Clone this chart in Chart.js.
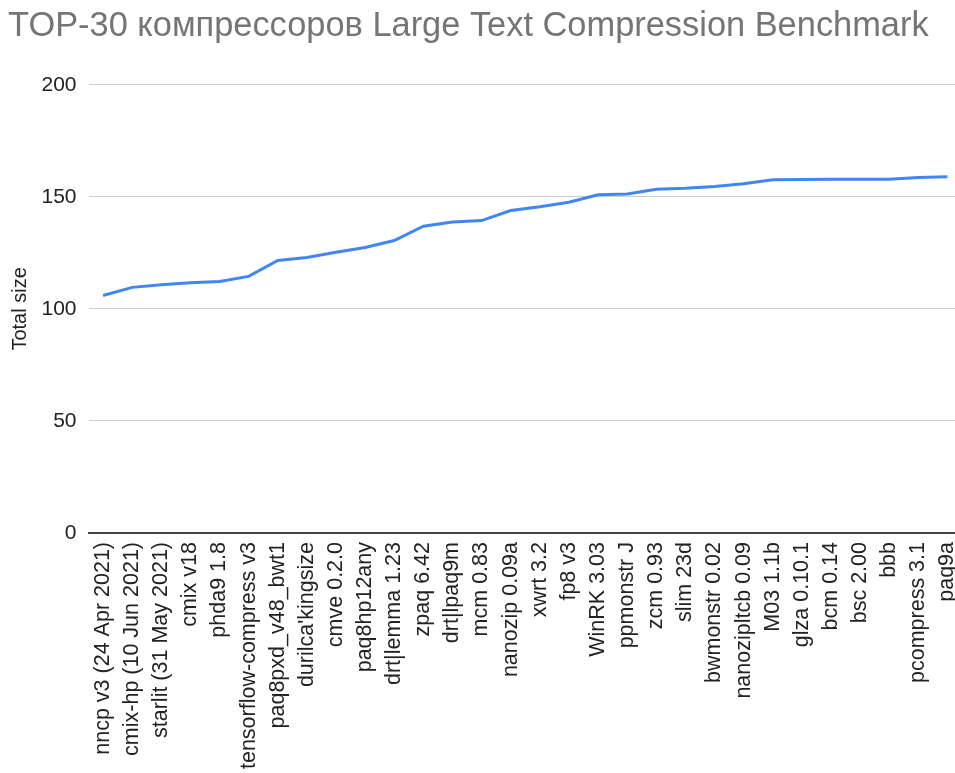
<!DOCTYPE html>
<html>
<head>
<meta charset="utf-8">
<script src="https://cdn.jsdelivr.net/npm/chart.js@4/dist/chart.umd.min.js"></script>
<style>
  html, body { margin: 0; padding: 0; background: #fff; overflow: hidden; }
  #wrap { width: 962px; height: 773px; position: relative; }
</style>
</head>
<body>
<div id="wrap"><canvas id="c"></canvas></div>
<script>
const categories = [
  "nncp v3 (24 Apr 2021)", "cmix-hp (10 Jun 2021)", "starlit (31 May 2021)", "cmix v18", "phda9 1.8",
  "tensorflow-compress v3", "paq8pxd_v48_bwt1", "durilca'kingsize", "cmve 0.2.0", "paq8hp12any",
  "drt|lemma 1.23", "zpaq 6.42", "drt|lpaq9m", "mcm 0.83", "nanozip 0.09a",
  "xwrt 3.2", "fp8 v3", "WinRK 3.03", "ppmonstr J", "zcm 0.93",
  "slim 23d", "bwmonstr 0.02", "nanozipltcb 0.09", "M03 1.1b", "glza 0.10.1",
  "bcm 0.14", "bsc 2.00", "bbb", "pcompress 3.1", "paq9a"
];
const totalSize = [
  106.0, 109.6, 110.8, 111.7, 112.2,
  114.5, 121.6, 122.9, 125.3, 127.4,
  130.5, 136.9, 138.8, 139.4, 143.9,
  145.6, 147.6, 150.9, 151.3, 153.4,
  153.8, 154.6, 155.8, 157.6, 157.7,
  157.8, 157.8, 157.9, 158.6, 159.0
];
const yTicks = [0, 50, 100, 150, 200];
const chartTitle = "TOP-30 компрессоров Large Text Compression Benchmark";
const yAxisTitle = "Total size";

const FONT = "'Liberation Sans', Arial, sans-serif";

new Chart(document.getElementById('c'), {
  type: 'line',
  data: {
    labels: categories,
    datasets: [{
      label: yAxisTitle,
      data: totalSize,
      borderColor: '#4285F4',
      backgroundColor: '#4285F4',
      borderWidth: 3,
      pointRadius: 0,
      tension: 0,
      fill: false
    }]
  },
  options: {
    responsive: true,
    maintainAspectRatio: false,
    animation: false,
    layout: { padding: { left: 8, right: 0, top: 0, bottom: 0 } },
    plugins: {
      legend: { display: false },
      tooltip: { enabled: false },
      title: {
        display: true,
        text: chartTitle,
        align: 'start',
        color: '#757575',
        font: { family: FONT, size: 34.4, weight: 'normal' },
        padding: { top: 6, bottom: 37.5 }
      }
    },
    scales: {
      x: {
        offset: true,
        grid: { display: false, drawTicks: false },
        border: { display: true, color: '#444444', width: 2 },
        ticks: {
          autoSkip: false,
          minRotation: 90,
          maxRotation: 90,
          padding: 9,
          color: '#222222',
          font: { family: FONT, size: 21.5 }
        },
        afterFit: (s) => { s.height = 240; s.paddingLeft = 0; s.paddingRight = 0; }
      },
      y: {
        min: 0,
        max: 200,
        afterBuildTicks: (s) => { s.ticks = yTicks.map(v => ({ value: v })); },
        grid: {
          color: (ctx) => ctx.tick && ctx.tick.value === 0 ? 'rgba(0,0,0,0)' : '#cccccc',
          lineWidth: 1,
          drawTicks: false
        },
        border: { display: false },
        ticks: {
          padding: 12,
          color: '#222222',
          font: { family: FONT, size: 21 }
        },
        title: {
          display: true,
          text: yAxisTitle,
          color: '#222222',
          font: { family: FONT, size: 20 },
          padding: { top: 0, bottom: 0 }
        },
        afterFit: (s) => { s.width = 80.5; }
      }
    }
  }
});
</script>
</body>
</html>
